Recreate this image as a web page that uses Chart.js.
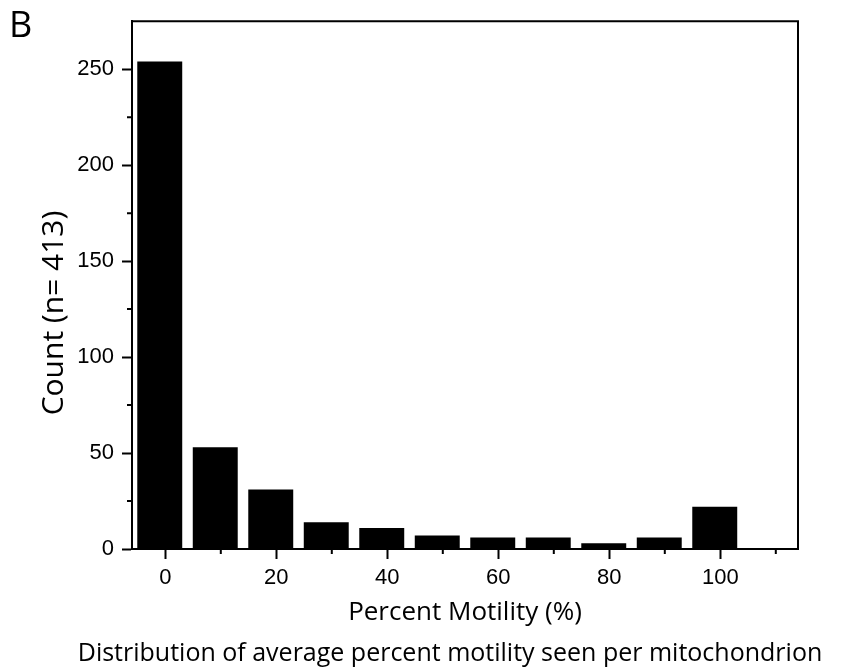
<!DOCTYPE html>
<html>
<head>
<meta charset="utf-8">
<script src="https://cdn.jsdelivr.net/npm/chart.js@4"></script>
<style>
    body { margin: 0; background: #fff; }
</style>
</head>
<body>
<canvas id="graph" width="846" height="669"></canvas>
<script>
const binCenters = [0, 10, 20, 30, 40, 50, 60, 70, 80, 90, 100];
const counts = [254, 53, 31, 14, 11, 7, 6, 6, 3, 6, 22];
const xTicks = [0, 20, 40, 60, 80, 100];
const xMinorTicks = [10, 30, 50, 70, 90, 110];
const yTicks = [0, 50, 100, 150, 200, 250];
const yMinorTicks = [25, 75, 125, 175, 225];
const panelLabel = 'B';
const xTitle = 'Percent Motility (%)';
const yTitle = 'Count (n= 413)';
const caption = 'Distribution of average percent motility seen per mitochondrion';

// bars in the figure sit about 1 unit left of their tick
const binShift = -1;

let graph;

window.addEventListener('DOMContentLoaded', function () {
    init();
});

// top/right frame, minor ticks, y title (sits below centre), panel letter and caption
const frame = {
    id: 'frame',
    afterDraw(chart) {
        const {ctx, chartArea: a, scales: {x, y}} = chart;
        ctx.save();
        ctx.strokeStyle = '#000';
        ctx.lineWidth = 2;
        ctx.beginPath();
        ctx.moveTo(a.left, a.top);
        ctx.lineTo(a.right, a.top);
        ctx.lineTo(a.right, a.bottom);
        yMinorTicks.forEach(v => {
            const py = y.getPixelForValue(v);
            ctx.moveTo(a.left - 5, py);
            ctx.lineTo(a.left, py);
        });
        xMinorTicks.forEach(v => {
            const px = x.getPixelForValue(v);
            ctx.moveTo(px, a.bottom);
            ctx.lineTo(px, a.bottom + 5);
        });
        ctx.stroke();

        ctx.fillStyle = '#000';
        ctx.textBaseline = 'alphabetic';
        ctx.textAlign = 'left';
        ctx.font = '36px "Open Sans"';
        ctx.fillText(panelLabel, 9, 37);
        ctx.textAlign = 'center';
        ctx.font = '25px "Open Sans"';
        ctx.fillText(caption, 450, 661);

        ctx.translate(54, 313);
        ctx.rotate(-Math.PI / 2);
        ctx.textBaseline = 'middle';
        ctx.font = '30px "Open Sans"';
        ctx.fillText(yTitle, 0, 0);
        ctx.restore();
    }
};

function init() {
    const div = document.getElementById('graph');
    const points = binCenters.map((c, i) => ({x: c + binShift, y: counts[i]}));

    graph = new Chart(div, {
        type: 'bar',
        data: {
            datasets: [
                {
                    data: points,
                    backgroundColor: '#000',
                    borderWidth: 0,
                    barPercentage: 0.81,
                    categoryPercentage: 1
                }
            ]
        },
        options: {
            responsive: false,
            animation: false,
            layout: {padding: {top: 17, right: 48, bottom: 30, left: 0}},
            plugins: {
                legend: {display: false},
                tooltip: {enabled: false}
            },
            scales: {
                x: {
                    type: 'linear',
                    min: -6,
                    max: 114,
                    offset: false,
                    afterBuildTicks: s => { s.ticks = xTicks.map(v => ({value: v})); },
                    afterFit: s => { s.height = 90; },
                    ticks: {
                        color: '#000',
                        font: {family: 'Liberation Sans', size: 22},
                        padding: 6,
                        maxRotation: 0,
                        autoSkip: false
                    },
                    grid: {
                        display: true,
                        offset: false,
                        drawOnChartArea: false,
                        tickLength: 10,
                        tickWidth: 2,
                        tickColor: '#000'
                    },
                    border: {display: true, color: '#000', width: 2},
                    title: {
                        display: true,
                        text: xTitle,
                        color: '#000',
                        font: {family: 'Open Sans', size: 26},
                        padding: {top: 0, bottom: 11}
                    }
                },
                y: {
                    type: 'linear',
                    min: 0,
                    max: 275,
                    afterBuildTicks: s => { s.ticks = yTicks.map(v => ({value: v})); },
                    afterFit: s => { s.width = 132; },
                    ticks: {
                        color: '#000',
                        font: {family: 'Liberation Sans', size: 22},
                        padding: 8
                    },
                    grid: {
                        display: true,
                        drawOnChartArea: false,
                        tickLength: 10,
                        tickWidth: 2,
                        tickColor: '#000'
                    },
                    border: {display: true, color: '#000', width: 2},
                    title: {display: false}
                }
            }
        },
        plugins: [frame]
    });
}
</script>
</body>
</html>
